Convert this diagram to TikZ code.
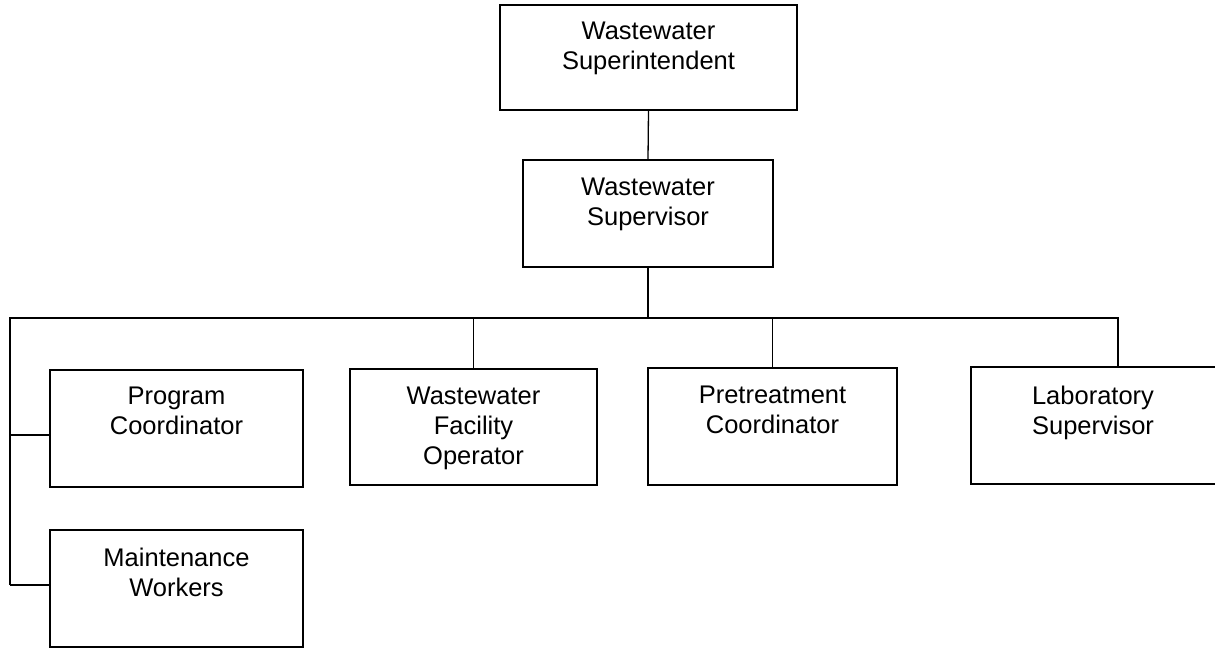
\documentclass[tikz,border=0pt]{standalone}
\usepackage{fontspec}
\setmainfont{Liberation Sans}
\begin{document}
\begin{tikzpicture}[x=1pt,y=-1pt,
  box/.style={draw, line width=1.3pt, inner sep=0pt},
  lbl/.style={align=center, inner sep=0pt, anchor=north,
    font=\fontsize{25.5pt}{30pt}\selectfont},
  conn/.style={line width=1.3pt}]
\useasboundingbox (0,0) rectangle (1215,649);
% boxes
\node[box, minimum width=297pt, minimum height=105pt] (sup) at (648.5,57.5) {};
\node[box, minimum width=250pt, minimum height=107pt] (svr) at (648,213.5) {};
\node[box, minimum width=253pt, minimum height=117pt] (prog) at (176.5,428.5) {};
\node[box, minimum width=247pt, minimum height=116pt] (fac) at (473.5,427) {};
\node[box, minimum width=249pt, minimum height=117pt] (pre) at (772.5,426.5) {};
\node[box, minimum width=250pt, minimum height=117pt] (lab) at (1096,425.5) {};
\node[box, minimum width=253pt, minimum height=117pt] (maint) at (176.5,588.5) {};
% labels
\node[lbl] (supt) at ([yshift=-17pt]sup.north) {Wastewater\\Superintendent};
\node[lbl] (svrt) at ([yshift=-18pt]svr.north) {Wastewater\\Supervisor};
\node[lbl] (progt) at ([yshift=-17pt]prog.north) {Program\\Coordinator};
\node[lbl] (fact) at ([yshift=-18pt]fac.north) {Wastewater\\Facility\\Operator};
\node[lbl] (pret) at ([yshift=-18pt]pre.north) {Pretreatment\\Coordinator};
\node[lbl] (labt) at ([xshift=-3pt,yshift=-19pt]lab.north) {Laboratory\\Supervisor};
\node[lbl] (maintt) at ([yshift=-18pt]maint.north) {Maintenance\\Workers};
% connector coordinates
\coordinate (busL) at (10,318);
\coordinate (busR) at (1118,318);
\coordinate (pj) at (10,435);
\coordinate (mj) at (10,585);
% connectors
\draw[conn] (sup.south) -- (svr.north);
\draw[conn] (svr.south) -- (svr.south |- busL);
\draw[conn] (mj) -- (busL) -- (busR) -- (busR |- lab.north);
\draw[conn] (fac.north |- busL) -- (fac.north);
\draw[conn] (pre.north |- busL) -- (pre.north);
\draw[conn] (pj) -- (pj -| prog.west);
\draw[conn] (mj) -- (mj -| maint.west);
\end{tikzpicture}
\end{document}
